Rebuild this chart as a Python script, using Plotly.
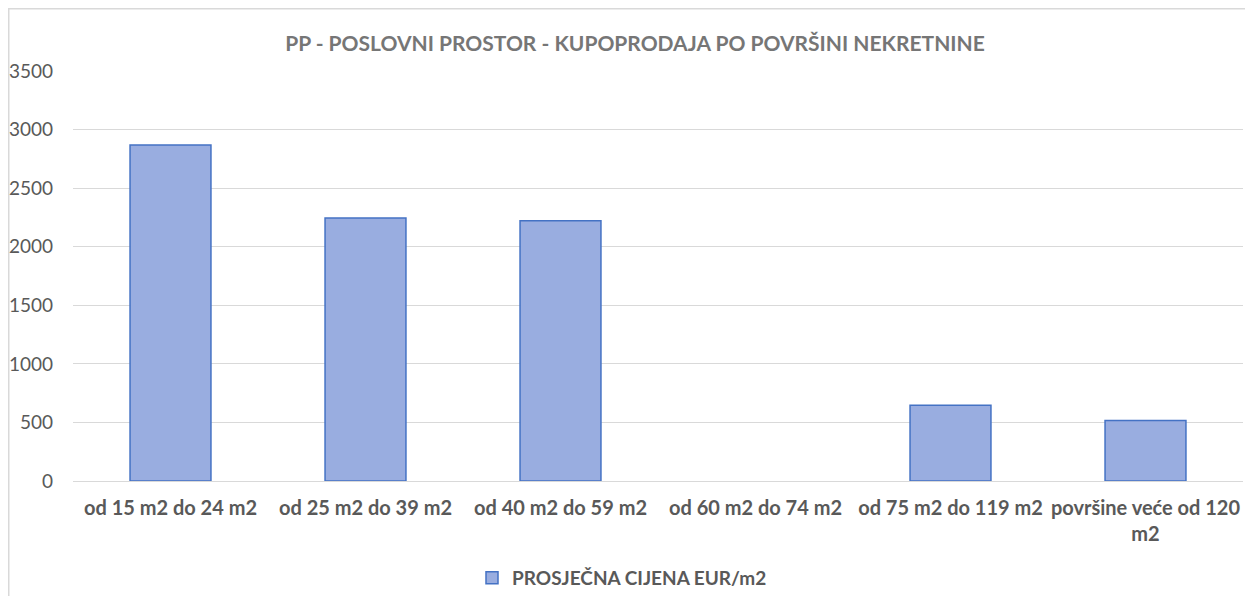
import plotly.graph_objects as go

categories = ["od 15 m2 do 24 m2", "od 25 m2 do 39 m2", "od 40 m2 do 59 m2",
              "od 60 m2 do 74 m2", "od 75 m2 do 119 m2", "površine veće od 120<br>m2"]
values = [2868, 2245, 2222, None, 646, 516]
series_name = "PROSJEČNA CIJENA EUR/m2"
title = "PP - POSLOVNI PROSTOR - KUPOPRODAJA PO POVRŠINI NEKRETNINE"
y_ticks = [0, 500, 1000, 1500, 2000, 2500, 3000, 3500]

FONT = "Lato"
W, H = 1253, 596
L, R, T, B = 65, 18, 63, 123
PW, PH = W - L - R, H - T - B

fig = go.Figure()
fig.add_trace(go.Bar(
    x=categories, y=values, name=series_name,
    marker=dict(color="#99ade0", line=dict(color="#4472c4", width=1.5)),
    showlegend=True,
))

fig.update_layout(
    width=W, height=H,
    margin=dict(l=L, r=R, t=T, b=B, autoexpand=False),
    paper_bgcolor="white", plot_bgcolor="white",
    bargap=0.585,
    title=dict(text="<b>" + title + "</b>", x=627 / W, xanchor="center", y=1 - 36 / H, yanchor="middle",
               font=dict(family=FONT, size=21, color="#767676")),
    font=dict(family=FONT, color="#595959"),
    xaxis=dict(showgrid=False, showline=False, ticks="", ticklabelstandoff=13, automargin=False,
               tickfont=dict(family=FONT, size=20, color="#595959", weight="bold")),
    yaxis=dict(range=[0, 3500], tickvals=y_ticks, showgrid=True, gridcolor="#d9d9d9", gridwidth=1,
               zeroline=True, zerolinecolor="#d9d9d9", zerolinewidth=1, showline=False, ticks="",
               automargin=False,
               tickfont=dict(family=FONT, size=19, color="#595959"), ticklabelstandoff=19),
    legend=dict(orientation="h", x=(614 - L) / PW, xanchor="center", y=(H - B - 570) / PH, yanchor="middle",
                font=dict(family=FONT, size=19, color="#595959", weight="bold"), itemwidth=30),
    shapes=[dict(type="rect", xref="paper", yref="paper", x0=(0.75 - L) / PW, x1=1.2,
                 y0=-0.6, y1=(H - B - 0.75) / PH, line=dict(color="#d9d9d9", width=1.5), layer="below")],
)

fig.write_html("out.html")
